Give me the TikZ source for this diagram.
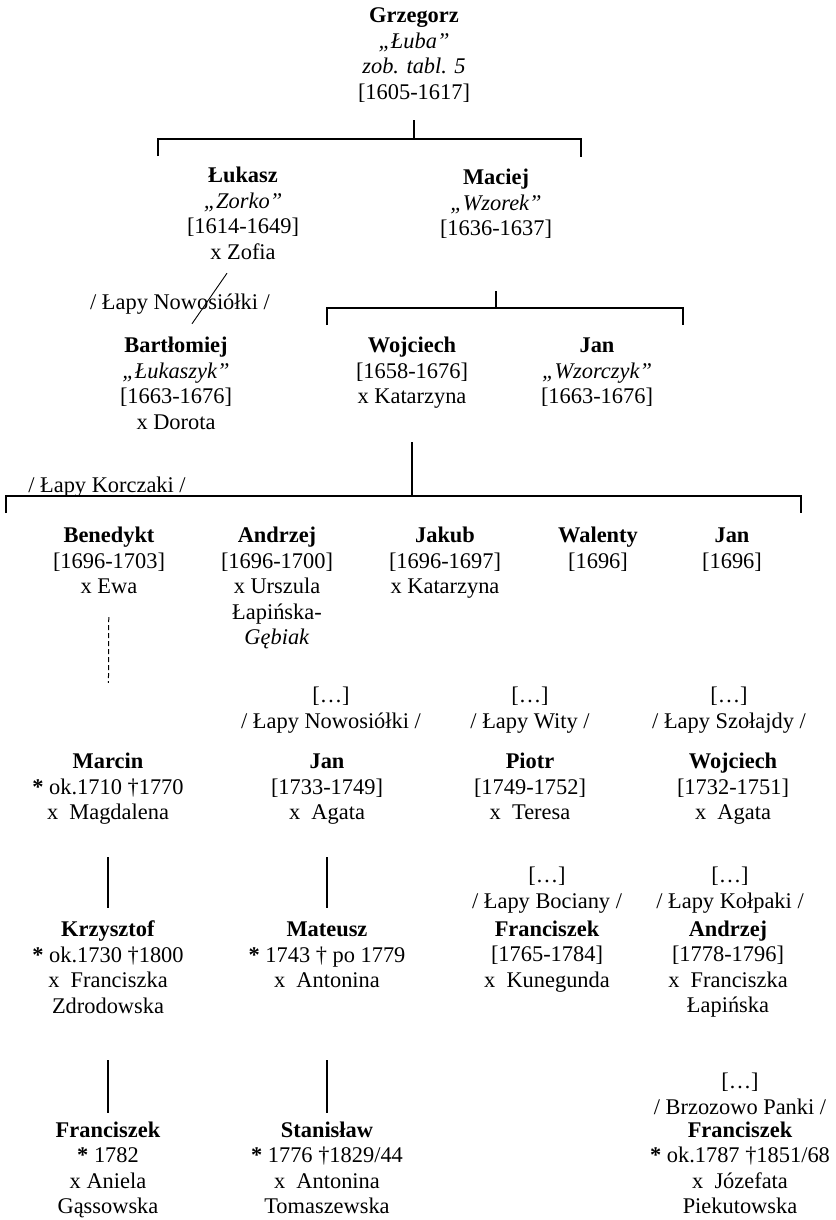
\documentclass[tikz,border=0pt]{standalone}
\usepackage{fontspec}
\setmainfont{Liberation Serif}

\newcommand*{\osoba}[1]{\begin{tabular}[t]{@{}c@{}}#1\end{tabular}}

\begin{document}
\begin{tikzpicture}
[
	x=1pt,
	y=-1pt,
	person/.style={anchor=base,inner sep=0pt,font=\fontsize{22.4}{25.6}\selectfont},
	link/.style={line width=1.3pt},
	thinlink/.style={line width=0.9pt},
	unsure/.style={line width=1pt,dash pattern=on 5pt off 3pt}
]

	\fill[white] (0,0) rectangle (835,1220);
	\useasboundingbox (0,0) rectangle (835,1220);

	% first generations
	\node[person] at (414,22.5) (grzegorz) {\osoba{\textbf{Grzegorz}\\\textit{„Łuba”}\\\textit{zob. tabl. 5}\\{}[1605-1617]}};
	\node[person] at (243,182.5) (lukasz) {\osoba{\textbf{Łukasz}\\\textit{„Zorko”}\\{}[1614-1649]\\x Zofia}};
	\node[person] at (496,184.5) (maciej) {\osoba{\textbf{Maciej}\\\textit{„Wzorek”}\\{}[1636-1637]}};

	\node[person] at (180,309.5) (nowosiolki) {/ Łapy Nowosiółki /};

	\node[person] at (176,352.5) (bartlomiej) {\osoba{\textbf{Bartłomiej}\\\textit{„Łukaszyk”}\\{}[1663-1676]\\x Dorota}};
	\node[person] at (412,352.5) (wojciech) {\osoba{\textbf{Wojciech}\\{}[1658-1676]\\x Katarzyna}};
	\node[person] at (597,352.5) (janwzorczyk) {\osoba{\textbf{Jan}\\\textit{„Wzorczyk”}\\{}[1663-1676]}};

	% Korczaki
	\node[person] at (107,492.5) (korczaki) {/ Łapy Korczaki /};

	\node[person] at (109,542.5) (benedykt) {\osoba{\textbf{Benedykt}\\{}[1696-1703]\\x Ewa}};
	\node[person] at (277,542.5) (andrzej) {\osoba{\textbf{Andrzej}\\{}[1696-1700]\\x Urszula\\Łapińska-\\\textit{Gębiak}}};
	\node[person] at (445,542.5) (jakub) {\osoba{\textbf{Jakub}\\{}[1696-1697]\\x Katarzyna}};
	\node[person] at (598,542.5) (walenty) {\osoba{\textbf{Walenty}\\{}[1696]}};
	\node[person] at (732,542.5) (jankorczak) {\osoba{\textbf{Jan}\\{}[1696]}};

	% later lines
	\node[person] at (331,702.5) (hdrnowosiolki) {\osoba{[…]\\/ Łapy Nowosiółki /}};
	\node[person] at (530,702.5) (hdrwity) {\osoba{[…]\\/ Łapy Wity /}};
	\node[person] at (729,702.5) (hdrszolajdy) {\osoba{[…]\\/ Łapy Szołajdy /}};

	\node[person] at (108,768.5) (marcin) {\osoba{\textbf{Marcin}\\\textbf{*} ok.1710 †1770\\x~~Magdalena}};
	\node[person] at (327,768.5) (jannowosiolki) {\osoba{\textbf{Jan}\\{}[1733-1749]\\x~~Agata}};
	\node[person] at (530,768.5) (piotr) {\osoba{\textbf{Piotr}\\{}[1749-1752]\\x~~Teresa}};
	\node[person] at (733,768.5) (wojciechszolajdy) {\osoba{\textbf{Wojciech}\\{}[1732-1751]\\x~~Agata}};

	\node[person] at (547,882.5) (hdrbociany) {\osoba{[…]\\/ Łapy Bociany /}};
	\node[person] at (730,882.5) (hdrkolpaki) {\osoba{[…]\\/ Łapy Kołpaki /}};

	\node[person] at (108,936.5) (krzysztof) {\osoba{\textbf{Krzysztof}\\\textbf{*} ok.1730 †1800\\x~~Franciszka\\Zdrodowska}};
	\node[person] at (327,936.5) (mateusz) {\osoba{\textbf{Mateusz}\\\textbf{*} 1743 † po 1779\\x~~Antonina}};
	\node[person] at (547,936) (franciszekbociany) {\osoba{\textbf{Franciszek}\\{}[1765-1784]\\x~~Kunegunda}};
	\node[person] at (728,936) (andrzejkolpaki) {\osoba{\textbf{Andrzej}\\{}[1778-1796]\\x~~Franciszka\\Łapińska}};

	\node[person] at (740,1088.5) (hdrbrzozowo) {\osoba{[…]\\/ Brzozowo Panki /}};

	\node[person] at (108,1137) (franciszek) {\osoba{\textbf{Franciszek}\\\textbf{*} 1782\\x Aniela\\Gąssowska}};
	\node[person] at (327,1137) (stanislaw) {\osoba{\textbf{Stanisław}\\\textbf{*} 1776 †1829/44\\x~~Antonina\\Tomaszewska}};
	\node[person] at (740,1137) (franciszekpanki) {\osoba{\textbf{Franciszek}\\\textbf{*} ok.1787 †1851/68\\x~~Józefata\\Piekutowska}};

	% brackets
	\coordinate (bar1l) at (158,139);
	\coordinate (bar1r) at (581,139);
	\coordinate (bar2l) at (327,308);
	\coordinate (bar2r) at (683,308);
	\coordinate (bar3l) at (6,496);
	\coordinate (bar3r) at (801,496);

	\draw[link] ([yshift=-13pt]grzegorz.south) -- (grzegorz.south |- bar1l);
	\draw[link] (bar1l) ++(0,17) -- (bar1l) -- (bar1r) -- ++(0,18);

	\draw[link] ([yshift=-47.6pt]maciej.south) -- (maciej.south |- bar2l);
	\draw[link] (bar2l) ++(0,17) -- (bar2l) -- (bar2r) -- ++(0,17);

	\draw[thinlink] ([xshift=-16pt,yshift=-6pt]lukasz.south) -- ([xshift=16pt,yshift=10.6pt]bartlomiej.north);

	\draw[link] ([yshift=-30.6pt]wojciech.south) -- (wojciech.south |- bar3l);
	\draw[link] (bar3l) ++(0,17) -- (bar3l) -- (bar3r) -- ++(0,17);

	% descent
	\draw[unsure,shorten <=15.6pt,shorten >=67.6pt] (benedykt) -- (marcin);
	\draw[link,shorten <=29.6pt,shorten >=10.6pt] (marcin) -- (krzysztof);
	\draw[link,shorten <=29.6pt,shorten >=10.6pt] (jannowosiolki) -- (mateusz);
	\draw[link,shorten <=39pt,shorten >=6.1pt] (krzysztof) -- (franciszek);
	\draw[link,shorten <=64.6pt,shorten >=6.1pt] (mateusz) -- (stanislaw);

\end{tikzpicture}
\end{document}
